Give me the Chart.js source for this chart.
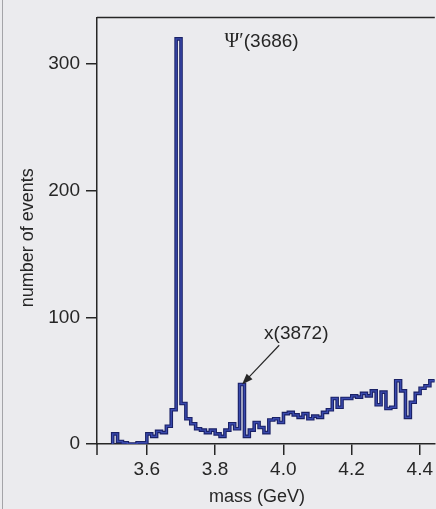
<!DOCTYPE html>
<html>
<head>
<meta charset="utf-8">
<script src="https://cdn.jsdelivr.net/npm/chart.js@4.4.0/dist/chart.umd.min.js"></script>
<style>
  html, body { margin: 0; padding: 0; background: #ebebee; }
  #wrap { width: 436px; height: 509px; position: relative; }
</style>
</head>
<body>
<div id="wrap"><canvas id="massChart"></canvas></div>
<script>
// histogram bins (GeV)
const binStart = 3.50;
const binWidth = 0.0143;
// events per bin
const counts = [
  8, 2, 1, 0, 0, 1, 1, 8, 6, 10,
  9, 14, 27, 320, 32, 20, 16, 12, 11, 9,
  11, 8, 6, 11, 16, 12, 47, 6, 11, 17,
  13, 9, 19, 20, 17, 24, 25, 23, 21, 24,
  20, 22, 21, 25, 27, 36, 29, 36, 36, 38,
  37, 40, 38, 42, 31, 41, 28, 29, 50, 42,
  21, 33, 40, 44, 46, 50
];
const xTicks = [3.6, 3.8, 4.0, 4.2, 4.4];
const yTicks = [0, 100, 200, 300];
const xRange = [3.454, 4.444];
const yRange = [0, 337];
const peakNames = ["Ψ′", "(3686)", "x(3872)"];
const axisTitles = ["mass (GeV)", "number of events"];

const ink = "#262626";
const sans = '"Liberation Sans", Arial, sans-serif';

// left edges + closing right edge, drawn as a step line
const points = [{ x: binStart, y: 0 }];
counts.forEach((c, i) => points.push({ x: binStart + i * binWidth, y: c }));
points.push({ x: binStart + counts.length * binWidth, y: counts[counts.length - 1] });

const decorations = {
  id: "decorations",
  beforeDraw(chart) {
    const ctx = chart.ctx;
    ctx.save();
    ctx.strokeStyle = "#a4a4a8";
    ctx.lineWidth = 1;
    ctx.beginPath();
    ctx.moveTo(2.5, 0);
    ctx.lineTo(2.5, chart.height);
    ctx.stroke();
    ctx.restore();
  },
  afterDatasetsDraw(chart) {
    const { ctx, chartArea: a, scales: { x, y } } = chart;
    ctx.save();
    ctx.strokeStyle = ink;
    ctx.lineWidth = 1.5;
    ctx.beginPath();
    ctx.moveTo(a.left, a.top);
    ctx.lineTo(a.right, a.top);
    ctx.moveTo(a.left, a.bottom);
    ctx.lineTo(a.left, a.bottom + 11);
    ctx.stroke();

    ctx.fillStyle = ink;
    ctx.textBaseline = "middle";

    // axis titles
    ctx.font = "18px " + sans;
    ctx.textAlign = "center";
    ctx.fillText(axisTitles[0], (a.left + a.right) / 2 - 9, chart.height - 12);
    ctx.save();
    ctx.translate(28, (a.top + a.bottom) / 2 + 7);
    ctx.rotate(-Math.PI / 2);
    ctx.fillText(axisTitles[1], 0, 0);
    ctx.restore();

    // psi' label
    let px = x.getPixelForValue(3.828), py = y.getPixelForValue(318);
    ctx.textAlign = "left";
    ctx.font = '20px "Liberation Serif", "Times New Roman", serif';
    ctx.fillText(peakNames[0], px, py);
    px += ctx.measureText(peakNames[0]).width;
    ctx.font = "19px " + sans;
    ctx.fillText(peakNames[1], px, py);

    // x(3872) label + arrow
    ctx.textAlign = "center";
    ctx.fillText(peakNames[2], x.getPixelForValue(4.038), y.getPixelForValue(87));
    const x0 = x.getPixelForValue(3.988), y0 = y.getPixelForValue(78);
    const x1 = x.getPixelForValue(3.879), y1 = y.getPixelForValue(47);
    const ang = Math.atan2(y1 - y0, x1 - x0);
    ctx.lineWidth = 1.2;
    ctx.beginPath();
    ctx.moveTo(x0, y0);
    ctx.lineTo(x1 - 8 * Math.cos(ang), y1 - 8 * Math.sin(ang));
    ctx.stroke();
    ctx.beginPath();
    ctx.moveTo(x1, y1);
    ctx.lineTo(x1 - 11 * Math.cos(ang) + 4 * Math.sin(ang), y1 - 11 * Math.sin(ang) - 4 * Math.cos(ang));
    ctx.lineTo(x1 - 11 * Math.cos(ang) - 4 * Math.sin(ang), y1 - 11 * Math.sin(ang) + 4 * Math.cos(ang));
    ctx.closePath();
    ctx.fill();
    ctx.restore();
  }
};

Chart.defaults.font.family = sans;
Chart.defaults.color = ink;

new Chart(document.getElementById("massChart"), {
  type: "line",
  data: {
    datasets: [
      {
        data: points,
        stepped: true,
        borderColor: "#3a4aae",
        borderWidth: 1.4,
        pointRadius: 0,
        fill: false,
        order: 0,
      },
      {
        data: points,
        stepped: true,
        borderColor: "#1a2166",
        borderWidth: 3.6,
        pointRadius: 0,
        fill: false,
        order: 1,
      },
    ],
  },
  options: {
    responsive: true,
    maintainAspectRatio: false,
    animation: false,
    layout: { padding: { top: 16, right: 0, left: 0, bottom: 0 } },
    plugins: { legend: { display: false }, tooltip: { enabled: false } },
    scales: {
      x: {
        type: "linear",
        min: xRange[0],
        max: xRange[1],
        afterBuildTicks: (s) => { s.ticks = xTicks.map((v) => ({ value: v })); },
        afterFit: (s) => { s.height = 65; },
        ticks: { font: { size: 19 }, padding: 3, maxRotation: 0, callback: (v) => v.toFixed(1) },
        grid: { drawOnChartArea: false, tickLength: 11, color: ink, lineWidth: 1.5 },
        border: { display: true, color: ink, width: 1.5 },
      },
      y: {
        min: yRange[0],
        max: yRange[1],
        afterBuildTicks: (s) => { s.ticks = yTicks.map((v) => ({ value: v })); },
        afterFit: (s) => { s.width = 97; },
        ticks: { font: { size: 19 }, padding: 6 },
        grid: { drawOnChartArea: false, tickLength: 11, color: ink, lineWidth: 1.5 },
        border: { display: true, color: ink, width: 1.5 },
      },
    },
  },
  plugins: [decorations],
});
</script>
</body>
</html>
